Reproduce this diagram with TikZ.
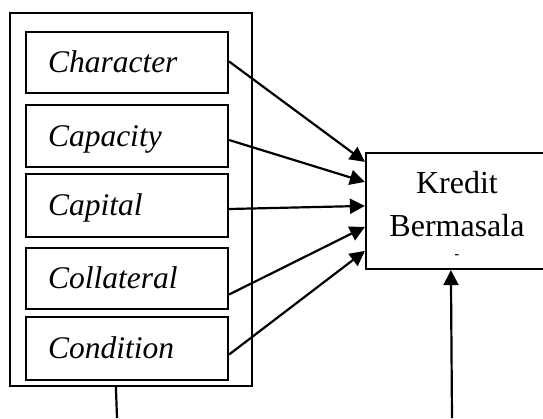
\documentclass[tikz,border=0pt]{standalone}
\usepackage{fontspec}
\setmainfont{Liberation Serif}[ItalicFont={Liberation Serif Italic}]
\usetikzlibrary{arrows.meta,calc}
\begin{document}
\begin{tikzpicture}[x=1pt,y=-1pt,line width=2.2pt,
  factor/.style={draw,rectangle,minimum width=202pt,minimum height=62pt,inner xsep=22pt,text width=158pt,align=left,
     font=\fontsize{31.5}{37}\selectfont\itshape,text height=22pt,text depth=2pt},
  arr/.style={-{Triangle[length=15pt,width=15pt]}}]
\useasboundingbox (0,0) rectangle (543,418);
\begin{scope}
\clip (0,0) rectangle (543,418);
\node[draw,rectangle,minimum width=242pt,minimum height=373pt] (outer) at (131,199.5) {};
\node[factor,minimum height=61pt] (c1) at (127,62.5) {Character};
\node[factor] (c2) at (127,136) {Capacity};
\node[factor,minimum height=63pt] (c3) at (127,205.5) {Capital};
\node[factor,minimum height=61pt] (c4) at (127,278.5) {Collateral};
\node[factor,minimum height=63pt] (c5) at (127,348.5) {Condition};
\node[draw,rectangle,minimum width=182pt,minimum height=116pt] (k) at (457,211) {};
\node[align=center,font=\fontsize{32}{43}\selectfont,inner sep=0pt] (kt) at (457,204) {Kredit\\Bermasala};
\node[font=\fontsize{14}{14}\selectfont\bfseries,inner sep=0pt] (kd) at (457,257) {-};
\coordinate (b1) at ($(outer.south west)+(107,0)$);
\coordinate (b1e) at (117,418);
\coordinate (b2) at (452,418);
\draw (b1) -- (b1e);
\draw[arr] (b2) -- ($(k.south west)+(86,0)$);
\draw[arr] ($(c1.east)+(0,-1)$) -- ($(k.north west)+(0,10)$);
\draw[arr] ($(c2.east)+(0,4)$) -- ($(k.north west)+(0,30)$);
\draw[arr] ($(c3.east)+(0,3.5)$) -- ($(k.north west)+(0,54)$);
\draw[arr] ($(c4.east)+(0,16)$) -- ($(k.north west)+(0,75)$);
\draw[arr] ($(c5.east)+(0,6)$) -- ($(k.north west)+(0,99)$);
\end{scope}
\end{tikzpicture}
\end{document}
